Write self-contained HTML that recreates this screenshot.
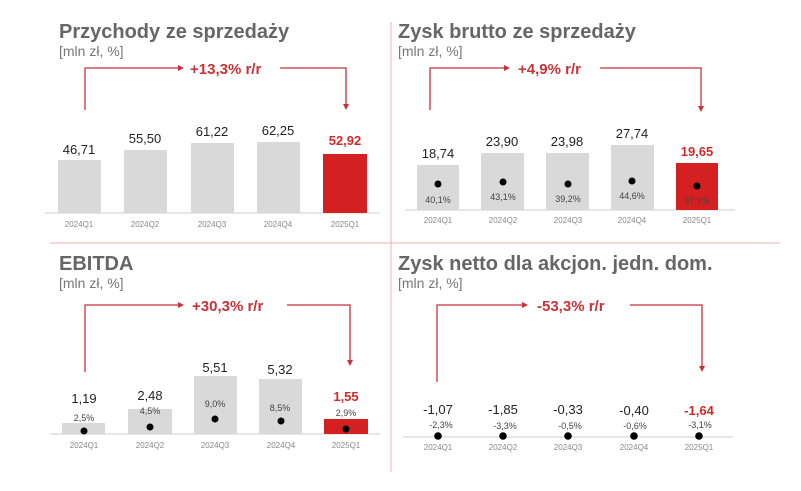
<!DOCTYPE html>
<html><head><meta charset="utf-8"><style>
body{margin:0;background:#fff;}
svg{display:block;font-family:"Liberation Sans",Arial,sans-serif;}
.t{font-size:20px;font-weight:bold;fill:#666;}
.s{font-size:14px;fill:#777;}
.v{font-size:13px;fill:#222;text-anchor:middle;}
.vr{font-size:13px;fill:#d02a2a;font-weight:bold;text-anchor:middle;}
.p{font-size:9px;fill:#444;text-anchor:middle;}
.a{font-size:8px;fill:#888;text-anchor:middle;}
.g{font-size:15px;font-weight:bold;fill:#c8323a;}
.l{stroke:#c8323a;stroke-width:1.3;fill:none;}
.ar{fill:#c8323a;}
</style></head><body>
<svg width="801" height="491" viewBox="0 0 801 491">
<line x1="50" y1="243" x2="780" y2="243" stroke="#e6b0b0" stroke-width="1"/>
<line x1="391" y1="22" x2="391" y2="472" stroke="#e6b0b0" stroke-width="1"/>

<!-- Panel 1 -->
<text class="t" x="59" y="38">Przychody ze sprzedaży</text>
<text class="s" x="59" y="56">[mln zł, %]</text>
<path class="l" d="M85 110V68H178"/><path class="ar" d="M178 65L184 68L178 71Z"/>
<text class="g" x="190" y="74">+13,3% r/r</text>
<path class="l" d="M280 68H346V104"/><path class="ar" d="M343 104L346 110L349 104Z"/>
<line x1="45" y1="213" x2="380" y2="213" stroke="#ccc"/>
<rect x="58" y="160" width="43" height="53" fill="#d9d9d9"/>
<rect x="124" y="150" width="43" height="63" fill="#d9d9d9"/>
<rect x="191" y="143" width="43" height="70" fill="#d9d9d9"/>
<rect x="257" y="142" width="43" height="71" fill="#d9d9d9"/>
<rect x="323" y="154" width="44" height="59" fill="#d42020"/>
<text class="v" x="79" y="154">46,71</text><text class="v" x="145" y="143">55,50</text>
<text class="v" x="212" y="136">61,22</text><text class="v" x="278" y="135">62,25</text>
<text class="vr" x="345" y="145">52,92</text>
<text class="a" x="79" y="227">2024Q1</text><text class="a" x="145" y="227">2024Q2</text><text class="a" x="212" y="227">2024Q3</text><text class="a" x="278" y="227">2024Q4</text><text class="a" x="345" y="227">2025Q1</text>

<!-- Panel 2 -->
<text class="t" x="398" y="38">Zysk brutto ze sprzedaży</text>
<text class="s" x="398" y="56">[mln zł, %]</text>
<path class="l" d="M430 110V68H504"/><path class="ar" d="M504 65L510 68L504 71Z"/>
<text class="g" x="518" y="74">+4,9% r/r</text>
<path class="l" d="M600 68H701V106"/><path class="ar" d="M698 106L701 112L704 106Z"/>
<line x1="405" y1="210" x2="735" y2="210" stroke="#ccc"/>
<rect x="417" y="165" width="42" height="45" fill="#d9d9d9"/>
<rect x="481" y="153" width="43" height="57" fill="#d9d9d9"/>
<rect x="546" y="153" width="43" height="57" fill="#d9d9d9"/>
<rect x="611" y="145" width="43" height="65" fill="#d9d9d9"/>
<rect x="676" y="163" width="42" height="47" fill="#d42020"/>
<text class="v" x="438" y="158">18,74</text><text class="v" x="502" y="146">23,90</text>
<text class="v" x="567" y="146">23,98</text><text class="v" x="632" y="138">27,74</text>
<text class="vr" x="697" y="156">19,65</text>
<circle cx="438" cy="184" r="3.5"/><circle cx="503" cy="182" r="3.5"/><circle cx="568" cy="184" r="3.5"/><circle cx="632" cy="181" r="3.5"/><circle cx="697" cy="186" r="3.5"/>
<text class="p" x="438" y="203">40,1%</text><text class="p" x="503" y="200">43,1%</text><text class="p" x="568" y="202">39,2%</text><text class="p" x="632" y="199">44,6%</text><text class="p" x="697" y="204">37,1%</text>
<text class="a" x="438" y="223">2024Q1</text><text class="a" x="503" y="223">2024Q2</text><text class="a" x="568" y="223">2024Q3</text><text class="a" x="632" y="223">2024Q4</text><text class="a" x="697" y="223">2025Q1</text>

<!-- Panel 3 -->
<text class="t" x="59" y="270">EBITDA</text>
<text class="s" x="59" y="288">[mln zł, %]</text>
<path class="l" d="M85 372V305H178"/><path class="ar" d="M178 302L184 305L178 308Z"/>
<text class="g" x="192" y="311">+30,3% r/r</text>
<path class="l" d="M287 305H350V360"/><path class="ar" d="M347 360L350 366L353 360Z"/>
<line x1="50" y1="434" x2="380" y2="434" stroke="#ccc"/>
<rect x="62" y="423" width="43" height="11" fill="#d9d9d9"/>
<rect x="128" y="409" width="44" height="25" fill="#d9d9d9"/>
<rect x="194" y="376" width="43" height="58" fill="#d9d9d9"/>
<rect x="259" y="379" width="43" height="55" fill="#d9d9d9"/>
<rect x="324" y="419" width="44" height="15" fill="#d42020"/>
<text class="v" x="84" y="403">1,19</text><text class="v" x="150" y="400">2,48</text>
<text class="v" x="215" y="372">5,51</text><text class="v" x="280" y="374">5,32</text>
<text class="vr" x="346" y="401">1,55</text>
<text class="p" x="84" y="421">2,5%</text><text class="p" x="150" y="414">4,5%</text><text class="p" x="215" y="407">9,0%</text><text class="p" x="280" y="411">8,5%</text><text class="p" x="346" y="416">2,9%</text>
<circle cx="84" cy="431" r="3.5"/><circle cx="150" cy="427" r="3.5"/><circle cx="215" cy="419" r="3.5"/><circle cx="281" cy="421" r="3.5"/><circle cx="346" cy="429" r="3.5"/>
<text class="a" x="84" y="448">2024Q1</text><text class="a" x="150" y="448">2024Q2</text><text class="a" x="215" y="448">2024Q3</text><text class="a" x="281" y="448">2024Q4</text><text class="a" x="346" y="448">2025Q1</text>

<!-- Panel 4 -->
<text class="t" x="398" y="270">Zysk netto dla akcjon. jedn. dom.</text>
<text class="s" x="398" y="288">[mln zł, %]</text>
<path class="l" d="M437 382V305H522"/><path class="ar" d="M522 302L528 305L522 308Z"/>
<text class="g" x="537" y="311">-53,3% r/r</text>
<path class="l" d="M630 305H702V366"/><path class="ar" d="M699 366L702 372L705 366Z"/>
<line x1="403" y1="437" x2="733" y2="437" stroke="#ccc"/>
<text class="v" x="438" y="414">-1,07</text><text class="v" x="503" y="414">-1,85</text><text class="v" x="568" y="414">-0,33</text><text class="v" x="634" y="415">-0,40</text>
<text class="vr" x="699" y="415">-1,64</text>
<text class="p" x="441" y="428">-2,3%</text><text class="p" x="505" y="429">-3,3%</text><text class="p" x="570" y="429">-0,5%</text><text class="p" x="635" y="429">-0,6%</text><text class="p" x="700" y="428">-3,1%</text>
<circle cx="438" cy="436" r="3.8"/><circle cx="503" cy="436" r="3.8"/><circle cx="568" cy="436" r="3.8"/><circle cx="634" cy="436" r="3.8"/><circle cx="699" cy="436" r="3.8"/>
<text class="a" x="438" y="450">2024Q1</text><text class="a" x="503" y="450">2024Q2</text><text class="a" x="568" y="450">2024Q3</text><text class="a" x="634" y="450">2024Q4</text><text class="a" x="699" y="450">2025Q1</text>
</svg>
</body></html>
